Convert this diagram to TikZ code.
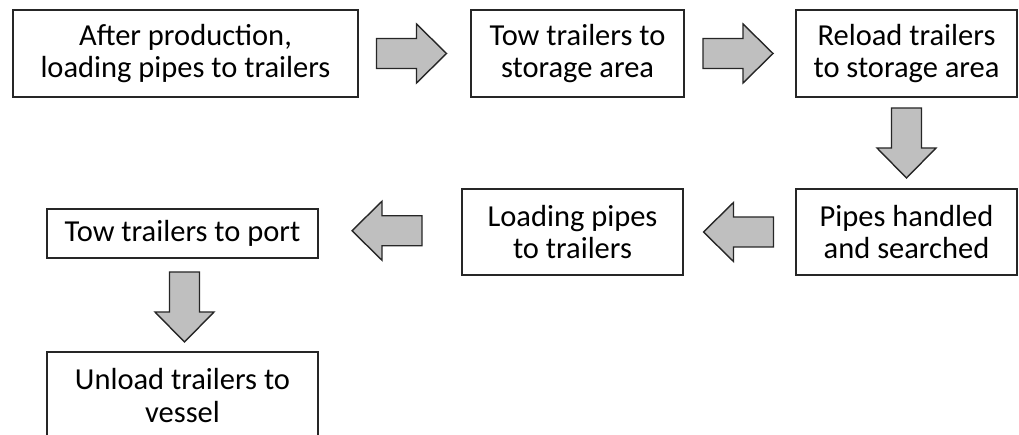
\documentclass[tikz,border=0pt]{standalone}
\usepackage{fontspec}
\setmainfont{Carlito}
\usetikzlibrary{calc}

\definecolor{arrowfill}{RGB}{191,191,191}
\definecolor{edgegray}{RGB}{38,38,38}

\tikzset{
  stepbox/.style={draw=edgegray, line width=1.4pt, fill=white, inner sep=0pt,
    align=center, font=\fontsize{30.5}{32.5}\selectfont},
  arrowbody/.style={draw=edgegray, line width=1.4pt, fill=arrowfill, line join=miter},
  blockarrow/.pic={
    \draw[arrowbody] (-35,-15) -- (5,-15) -- (5,-29.5) -- (35,0)
      -- (5,29.5) -- (5,15) -- (-35,15) -- cycle;
  }
}

\begin{document}
\begin{tikzpicture}[x=1pt,y=-1pt]
  \useasboundingbox (0,0) rectangle (1019,435);
  \clip (0,0) rectangle (1019,435);

  % process steps
  \node[stepbox, minimum width=345pt, minimum height=87pt] (b1) at (185.5,53.5)
    {After production,\\loading pipes to trailers};
  \node[stepbox, minimum width=213pt, minimum height=87pt] (b2) at (577.5,53.5)
    {Tow trailers to\\storage area};
  \node[stepbox, minimum width=221pt, minimum height=87pt] (b3) at (906.5,53.5)
    {Reload trailers\\to storage area};
  \node[stepbox, minimum width=221pt, minimum height=86pt] (b4) at (906.5,232)
    {Pipes handled\\and searched};
  \node[stepbox, minimum width=221pt, minimum height=86pt] (b5) at (572.5,232)
    {Loading pipes\\to trailers};
  \node[stepbox, minimum width=271pt, minimum height=49pt] (b6) at (182.5,233.5)
    {Tow trailers to port};
  \node[stepbox, minimum width=271pt, minimum height=87pt] (b7) at (182.5,395.5)
    {Unload trailers to\\vessel};

  % block arrows between consecutive steps
  \pic at ($(b1.east)!0.5!(b2.west)+(-3,0)$) {blockarrow};
  \pic at ($(b2.east)!0.5!(b3.west)+(-2,0)$) {blockarrow};
  \pic[rotate=-90] at ($(b3.south)!0.5!(b4.north)$) {blockarrow};
  \pic[rotate=180] at ($(b4.west)!0.5!(b5.east)+(-1,0)$) {blockarrow};
  \pic[rotate=180] at ($(b5.west)!0.5!(b6.east)+(-3,-2)$) {blockarrow};
  \pic[rotate=-90] at ($(b6.south)!0.5!(b7.north)+(2,2)$) {blockarrow};
\end{tikzpicture}
\end{document}
